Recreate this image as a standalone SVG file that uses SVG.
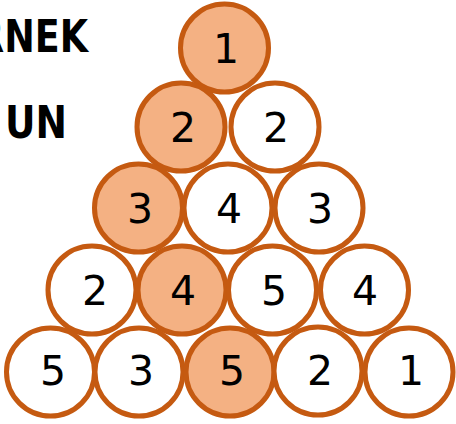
<svg xmlns="http://www.w3.org/2000/svg" width="456" height="424" viewBox="0 0 456 424">
<style>
.c{stroke:#C55A11;stroke-width:5;fill:#FFFFFF}
.f{fill:#F4B183}
.n{font-family:"DejaVu Sans","Liberation Sans",sans-serif;font-size:41px;fill:#000;text-anchor:middle}
.t{font-family:"DejaVu Sans","Liberation Sans",sans-serif;font-weight:bold;font-size:44px;fill:#000}
</style>
<rect width="456" height="424" fill="#FFFFFF"/>
<text class="t" x="-24" y="52" textLength="112" lengthAdjust="spacingAndGlyphs">RNEK</text>
<text class="t" x="5" y="138" textLength="62" lengthAdjust="spacingAndGlyphs">UN</text>
<g id="connectors"/>
<g id="n1"><circle class="c f" cx="224.5" cy="48" r="44"/><text class="n" x="226" y="63">1</text></g>
<g id="n2a"><circle class="c f" cx="181" cy="127" r="44"/><text class="n" x="183" y="142">2</text></g>
<g id="n2b"><circle class="c" cx="275" cy="127" r="44"/><text class="n" x="276" y="142">2</text></g>
<g id="n3a"><circle class="c f" cx="138.5" cy="208" r="44"/><text class="n" x="140" y="223">3</text></g>
<g id="n3b"><circle class="c" cx="228" cy="208" r="44"/><text class="n" x="229" y="223">4</text></g>
<g id="n3c"><circle class="c" cx="319" cy="208" r="44"/><text class="n" x="320" y="223">3</text></g>
<g id="n4a"><circle class="c" cx="92" cy="290" r="44"/><text class="n" x="95" y="305">2</text></g>
<g id="n4b"><circle class="c f" cx="182" cy="290" r="44"/><text class="n" x="183" y="305">4</text></g>
<g id="n4c"><circle class="c" cx="272.5" cy="290" r="44"/><text class="n" x="274" y="305">5</text></g>
<g id="n4d"><circle class="c" cx="364.5" cy="290" r="44"/><text class="n" x="365" y="305">4</text></g>
<g id="n5a"><circle class="c" cx="50.5" cy="372" r="44"/><text class="n" x="53" y="385">5</text></g>
<g id="n5b"><circle class="c" cx="139" cy="372" r="44"/><text class="n" x="141" y="385">3</text></g>
<g id="n5c"><circle class="c f" cx="230" cy="372" r="44"/><text class="n" x="232" y="385">5</text></g>
<g id="n5d"><circle class="c" cx="318" cy="371" r="44"/><text class="n" x="320" y="385">2</text></g>
<g id="n5e"><circle class="c" cx="409" cy="372" r="44"/><text class="n" x="411" y="385">1</text></g>
</svg>
